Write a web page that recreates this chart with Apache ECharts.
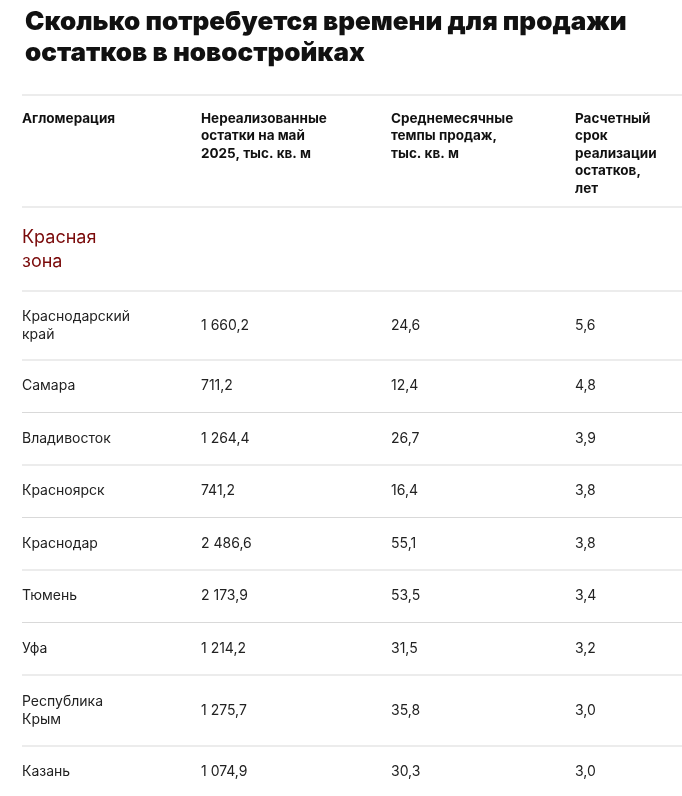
<!DOCTYPE html>
<html><head><meta charset="utf-8">
<script src="https://cdn.jsdelivr.net/npm/echarts@6/dist/echarts.min.js"></script>
<style>html,body{margin:0;padding:0;background:#fff}#c{width:682px;height:796px}</style>
</head><body><div id="c"></div>
<script>
const titleText = 'Сколько потребуется времени для продажи\nостатков в новостройках';
const headers = ['Агломерация', 'Нереализованные\nостатки на май\n2025, тыс. кв. м', 'Среднемесячные\nтемпы продаж,\nтыс. кв. м', 'Расчетный\nсрок\nреализации\nостатков,\nлет'];
const sectionLabel = 'Красная\nзона';
const regions = ['Краснодарский\nкрай', 'Самара', 'Владивосток', 'Красноярск', 'Краснодар', 'Тюмень', 'Уфа', 'Республика\nКрым', 'Казань'];
const stock = ['1 660,2', '711,2', '1 264,4', '741,2', '2 486,6', '2 173,9', '1 214,2', '1 275,7', '1 074,9'];
const pace = ['24,6', '12,4', '26,7', '16,4', '55,1', '53,5', '31,5', '35,8', '30,3'];
const years = ['5,6', '4,8', '3,9', '3,8', '3,8', '3,4', '3,2', '3,0', '3,0'];

const font = 'Inter, Roboto, sans-serif';
const colX = [22, 201, 391, 575];
const left = 22, right = 682;
const g = [];
function line(y){ g.push({type:'line', shape:{x1:left,y1:y,x2:right,y2:y}, style:{stroke:'#d9d9d9', lineWidth:1}}); }
line(95);
headers.forEach((h,i)=>g.push({type:'text', x:colX[i], y:110, style:{text:h, font:'bold 13.5px '+font, fill:'#111', lineHeight:17.5}}));
line(207);
g.push({type:'text', x:22, y:226, style:{text:sectionLabel, font:'18px '+font, fill:'#7a0a0a', lineHeight:24}});
line(291);
let y = 291;
regions.forEach((r,i)=>{
  const h = r.includes('\n') ? (i===0 ? 69 : 71) : 52.5;
  const cy = y + h/2;
  [r, stock[i], pace[i], years[i]].forEach((t,j)=>g.push({type:'text', x:colX[j], y:cy, style:{text:t, font:'14px '+font, fill:'#222', lineHeight:18, verticalAlign:'middle'}}));
  y += h;
  if (i < regions.length-1) line(y);
});
const chart = echarts.init(document.getElementById('c'));
chart.setOption({
  backgroundColor:'#fff',
  title:{text:titleText, left:20, top:2, textStyle:{fontFamily:font, fontSize:26, fontWeight:900, color:'#111', lineHeight:31}},
  graphic:g
});
</script></body></html>
